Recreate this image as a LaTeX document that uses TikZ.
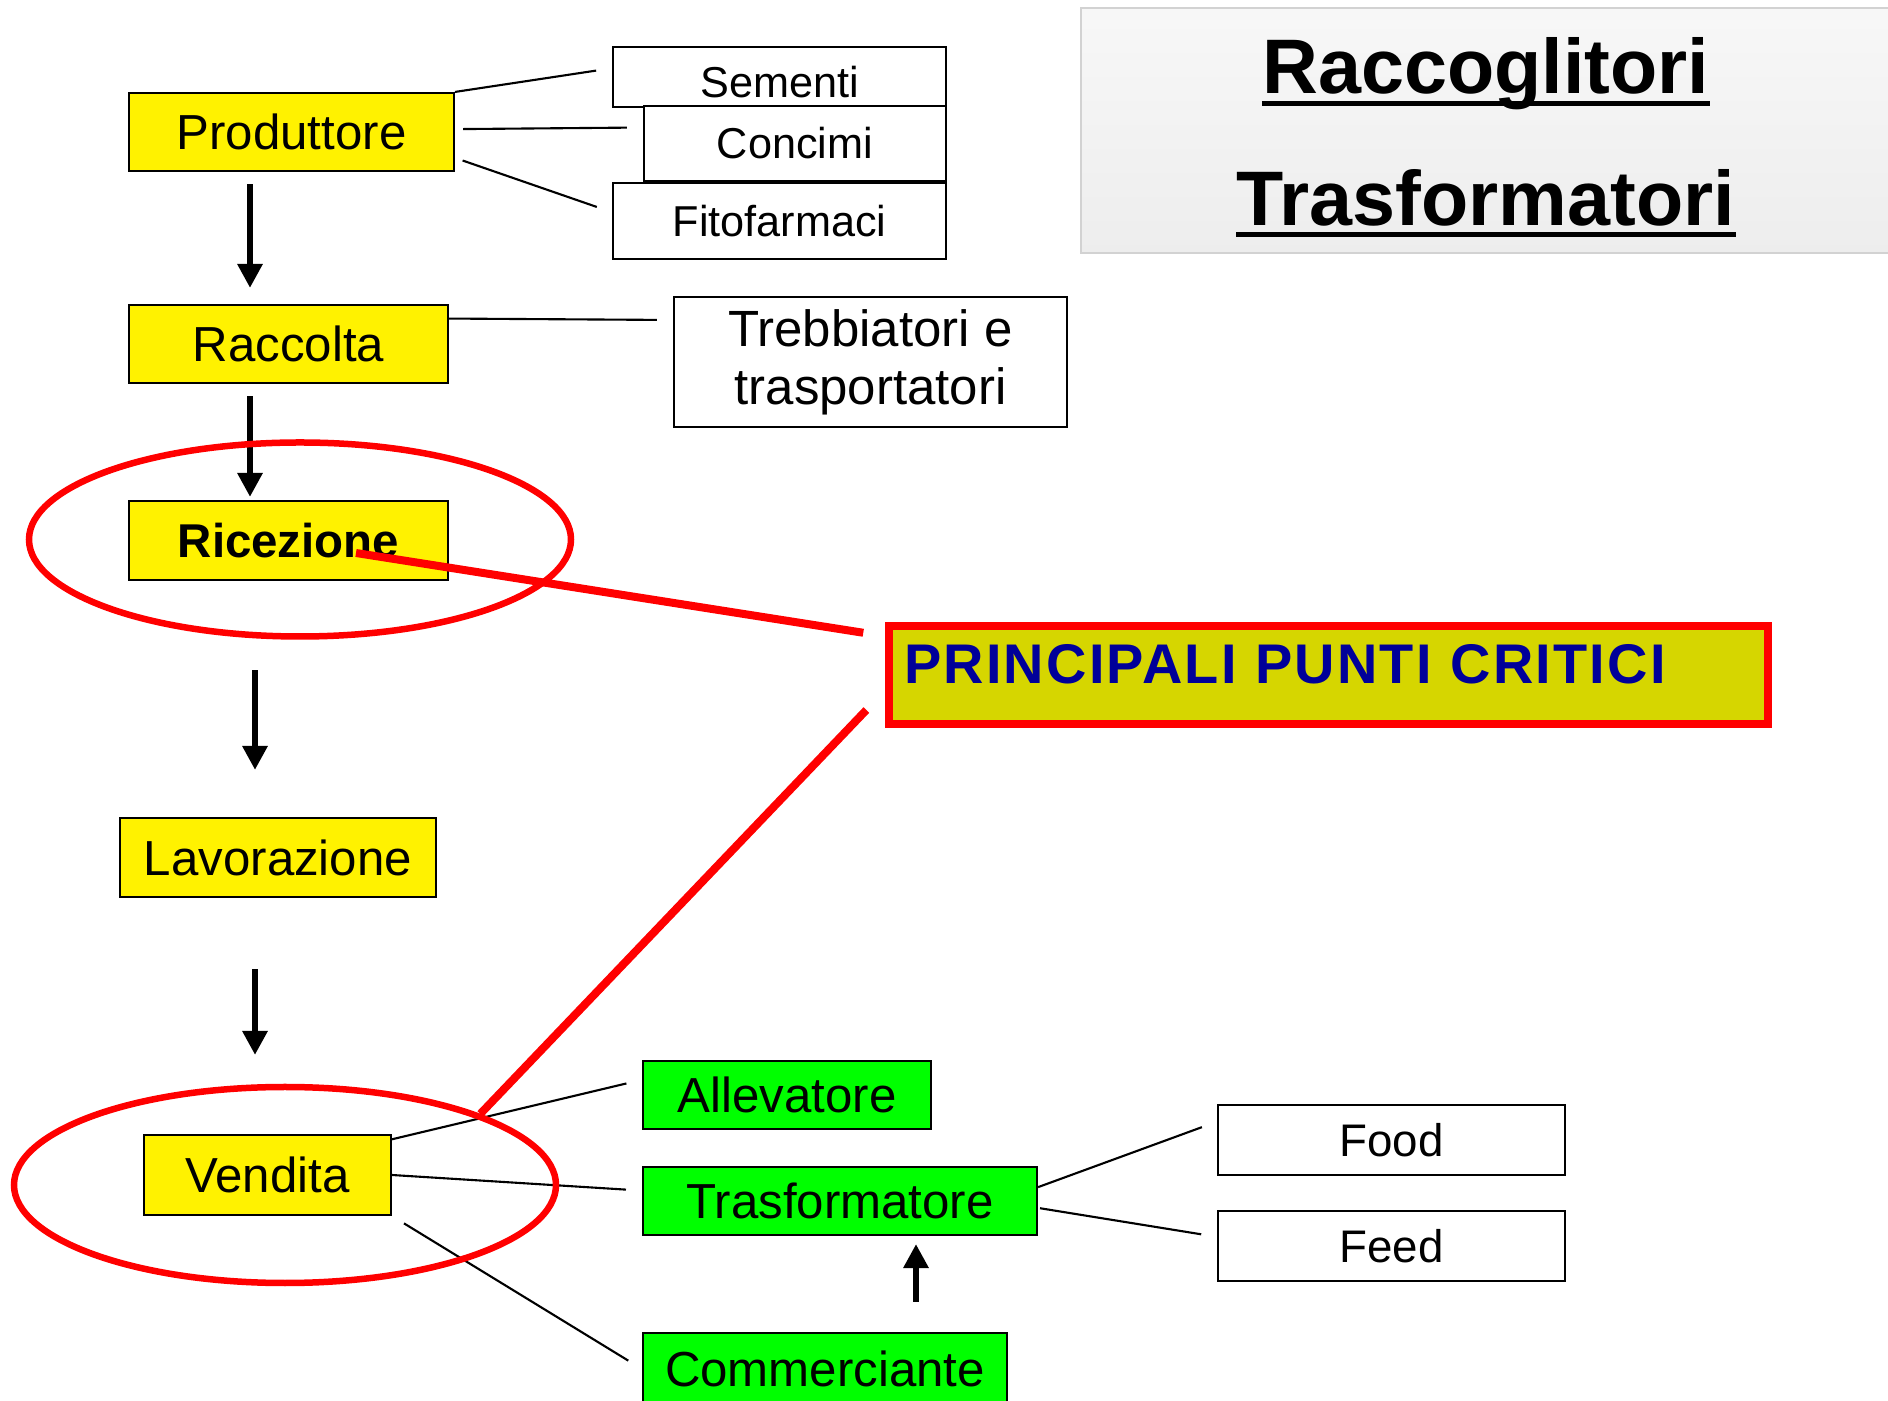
\documentclass[tikz,border=0pt]{standalone}
\usepackage{fontspec}
\setmainfont{Liberation Sans}
\newfontfamily\pcfont[LetterSpace=4]{Liberation Sans}
\usetikzlibrary{arrows.meta,shapes.geometric}

\definecolor{boxgreen}{RGB}{0,255,0}
\definecolor{pcfill}{RGB}{214,214,0}
\definecolor{pcblue}{RGB}{0,0,153}

\begin{document}
\begin{tikzpicture}
    [fase/.style = {draw, line width=0.6pt, fill=yellow, minimum height=0.78cm, inner sep=0pt, font=\fontsize{14}{17}\selectfont},
     sub/.style = {draw, line width=0.6pt, fill=white, inner sep=0pt, font=\fontsize{12.3}{15}\selectfont},
     dest/.style = {draw, line width=0.6pt, fill=boxgreen, minimum height=0.68cm, inner sep=0pt, font=\fontsize{14}{17}\selectfont},
     uscita/.style = {draw, line width=0.6pt, fill=white, minimum width=3.47cm, minimum height=0.70cm, inner sep=0pt, font=\fontsize{13}{16}\selectfont},
     cerchio/.style = {ellipse, draw=red, line width=0.065cm, minimum width=5.42cm, inner sep=0pt},
     freccia/.style = {line width=0.06cm, -{Triangle[length=0.24cm,width=0.24cm]}},
     linea/.style = {line width=0.6pt},
     critica/.style = {draw=red, line width=0.08cm},
     pannello/.style = {draw=gray!35, line width=0.6pt, top color=gray!6, bottom color=gray!14},
     titolo/.style = {inner sep=0pt, font=\bfseries\fontsize{22}{26}\selectfont},
     uline/.style = {line width=0.05cm}]
    \useasboundingbox (0,0) rectangle (18.88,14);
    \clip (0,0) rectangle (18.88,14);

    \node[pannello, minimum width=8.19cm, minimum height=2.45cm] (pan) at (14.905,12.695) {};
    \node[titolo, anchor=base] (t1) at (14.86,13.06) {Raccoglitori};
    \node[titolo, anchor=base] (t2) at (14.86,11.74) {Trasformatori};
    \draw[uline] ([yshift=-0.095cm]t1.base west) -- ([yshift=-0.095cm]t1.base east);
    \draw[uline] ([yshift=-0.09cm]t2.base west) -- ([yshift=-0.09cm]t2.base east);

    \node[fase, minimum width=3.25cm] (prod) at (2.915,12.68) {Produttore};
    \node[fase, minimum width=3.19cm] (racc) at (2.885,10.56) {Raccolta};
    \node[fase, minimum width=3.19cm, minimum height=0.79cm, font=\bfseries\fontsize{13.5}{16}\selectfont] (ricez) at (2.885,8.595) {Ricezione};
    \node[fase, minimum width=3.16cm, minimum height=0.79cm] (lav) at (2.78,5.425) {Lavorazione};
    \node[fase, minimum width=2.47cm, minimum height=0.80cm] (vend) at (2.675,2.25) {Vendita};

    \node[sub, minimum width=3.33cm, minimum height=0.60cm, text height=0.42cm, text depth=0cm] (sem) at (7.795,13.23) {Sementi};
    \node[sub, minimum width=3.02cm, minimum height=0.75cm] (conc) at (7.95,12.565) {Concimi};
    \node[sub, minimum width=3.33cm, minimum height=0.76cm] (fito) at (7.795,11.79) {Fitofarmaci};
    \node[sub, minimum width=3.93cm, minimum height=1.30cm, align=center, font=\fontsize{14.5}{16.5}\selectfont] (treb) at (8.705,10.38) {Trebbiatori e\\trasportatori};

    \node[dest, minimum width=2.88cm] (allev) at (7.87,3.05) {Allevatore};
    \node[dest, minimum width=3.94cm] (trasf) at (8.40,1.99) {Trasformatore};
    \node[dest, minimum width=3.64cm, minimum height=0.72cm] (comm) at (8.25,0.31) {Commerciante};
    \node[uscita] (food) at (13.915,2.60) {Food};
    \node[uscita] (feed) at (13.915,1.54) {Feed};

    \coordinate (ax1) at (2.50,0);
    \coordinate (ax2) at (2.55,0);
    \coordinate (ax3) at (9.16,0);

    \foreach \from/\to/\ax/\sa/\sb in {prod/racc/ax1/0.12cm/0.16cm, racc/ricez/ax1/0.12cm/0.03cm, ricez/lav/ax2/0.89cm/0.47cm, lav/vend/ax2/0.71cm/0.79cm}
      \draw[freccia, shorten <=\sa, shorten >=\sb] (\from.south -| \ax) -- (\to.north -| \ax);
    \draw[freccia, shorten <=0.30cm, shorten >=0.08cm] (comm.north -| ax3) -- (trasf.south -| ax3);

    \foreach \from/\to/\sa in {prod.north east/sem.177/0cm, prod.1/conc.174/0.08cm, prod.-9/fito.177/0.08cm, racc.9/treb.168/0cm, vend.16/allev.174/0cm, vend.east/trasf.177/0cm, vend.south east/comm.west/0.14cm, trasf.4/food.174/0cm, trasf.-2/feed.177/0.02cm}
      \draw[linea, shorten <=\sa, shorten >=0.16cm] (\from) -- (\to);

    \node[cerchio, minimum height=1.94cm] (el1) at (3.00,8.605) {};
    \node[cerchio, minimum height=1.96cm] (el2) at (2.85,2.15) {};

    \node[draw=red, line width=0.08cm, fill=pcfill, text=pcblue, text width=8.49cm, align=left,
          text height=0.41cm, text depth=0.23cm, inner xsep=0.15cm, inner ysep=0.17cm,
          font=\pcfont\bfseries\fontsize{15.9}{19}\selectfont] (pc) at (13.285,7.25) {PRINCIPALI PUNTI CRITICI};

    \coordinate (crit1) at (3.56,8.47);
    \draw[critica, shorten >=0.22cm] (crit1) -- (pc.175);
    \draw[critica, shorten >=0.27cm] (el2.20) -- (pc.182);
  \end{tikzpicture}
\end{document}
